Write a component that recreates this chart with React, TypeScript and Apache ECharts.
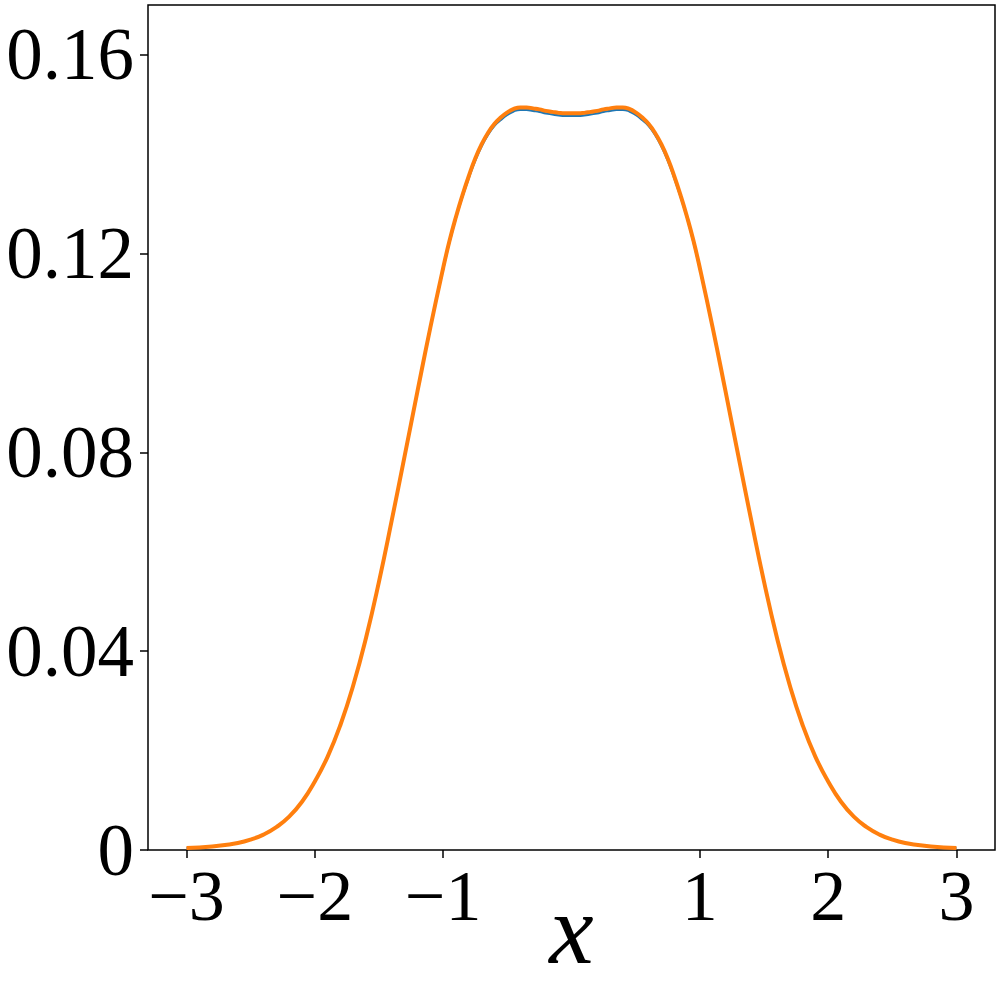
import React, { useEffect, useRef } from "react";
import * as echarts from "echarts";

const xs = [
  -3.0, -2.9, -2.8, -2.7, -2.6, -2.5, -2.4, -2.3, -2.2, -2.1,
  -2.0, -1.9, -1.8, -1.7, -1.6, -1.5, -1.4, -1.3, -1.2, -1.1,
  -1.0, -0.95, -0.9, -0.85, -0.8, -0.75, -0.7, -0.65, -0.6, -0.55,
  -0.5, -0.45, -0.4, -0.35, -0.3, -0.25, -0.2, -0.15, -0.1, -0.05,
  0.0, 0.05, 0.1, 0.15, 0.2, 0.25, 0.3, 0.35, 0.4, 0.45,
  0.5, 0.55, 0.6, 0.65, 0.7, 0.75, 0.8, 0.85, 0.9, 0.95,
  1.0, 1.1, 1.2, 1.3, 1.4, 1.5, 1.6, 1.7, 1.8, 1.9,
  2.0, 2.1, 2.2, 2.3, 2.4, 2.5, 2.6, 2.7, 2.8, 2.9, 3.0,
];

const orangeY = [
  0.0004, 0.0005, 0.0007, 0.001, 0.0014, 0.0021, 0.0031, 0.0046, 0.0067, 0.0097,
  0.0138, 0.0188, 0.0252, 0.0332, 0.0428, 0.054, 0.0664, 0.0793, 0.0923, 0.1051,
  0.1171, 0.1226, 0.1274, 0.1317, 0.1356, 0.1391, 0.142, 0.1443, 0.1461, 0.1474,
  0.1484, 0.1491, 0.1494, 0.1494, 0.1492, 0.149, 0.1487, 0.1485, 0.1483, 0.1482,
  0.1482, 0.1482, 0.1483, 0.1485, 0.1487, 0.149, 0.1492, 0.1494, 0.1494, 0.1491,
  0.1484, 0.1474, 0.1461, 0.1443, 0.142, 0.1391, 0.1356, 0.1317, 0.1274, 0.1226,
  0.1171, 0.1051, 0.0923, 0.0793, 0.0664, 0.054, 0.0428, 0.0332, 0.0252, 0.0188,
  0.0138, 0.0097, 0.0067, 0.0046, 0.0031, 0.0021, 0.0014, 0.001, 0.0007, 0.0005, 0.0004,
];

const blueY = [
  0.0004, 0.0005, 0.0007, 0.001, 0.0014, 0.0021, 0.0031, 0.0046, 0.0067, 0.0097,
  0.0138, 0.0188, 0.0252, 0.0332, 0.0428, 0.054, 0.0664, 0.0793, 0.0922, 0.105,
  0.1169, 0.1223, 0.1272, 0.1314, 0.1352, 0.1387, 0.1416, 0.1439, 0.1457, 0.1469,
  0.1479, 0.1486, 0.1489, 0.1489, 0.1487, 0.1485, 0.1482, 0.148, 0.1478, 0.1477,
  0.1477, 0.1477, 0.1478, 0.148, 0.1482, 0.1485, 0.1487, 0.1489, 0.1489, 0.1486,
  0.1479, 0.1469, 0.1457, 0.1439, 0.1416, 0.1387, 0.1352, 0.1314, 0.1272, 0.1223,
  0.1169, 0.105, 0.0922, 0.0793, 0.0664, 0.054, 0.0428, 0.0332, 0.0252, 0.0188,
  0.0138, 0.0097, 0.0067, 0.0046, 0.0031, 0.0021, 0.0014, 0.001, 0.0007, 0.0005, 0.0004,
];

const xTicks = [-3, -2, -1, 1, 2, 3];
const yTicks = [0, 0.04, 0.08, 0.12, 0.16];

const FONT = "'Liberation Serif', 'DejaVu Serif', serif";

export default function App() {
  const ref = useRef<HTMLDivElement>(null);
  useEffect(() => {
    document.body.style.margin = "0";
    const chart = echarts.init(ref.current!, undefined, { renderer: "svg" });
    const pair = (ys: number[]) => xs.map((x, i) => [x, ys[i]]);
    chart.setOption({
      animation: false,
      backgroundColor: "#ffffff",
      grid: {
        left: 148,
        right: 5,
        top: 5,
        bottom: 150,
        containLabel: false,
        outerBoundsMode: "none",
        show: true,
        borderColor: "#000",
        borderWidth: 1.5,
        backgroundColor: "transparent",
      },
      xAxis: {
        type: "value",
        min: -3.3,
        max: 3.3,
        name: "x",
        nameLocation: "middle",
        nameGap: 29,
        nameMoveOverlap: false,
        nameTextStyle: {
          fontFamily: FONT,
          fontStyle: "italic",
          fontSize: 100,
          color: "#000",
        },
        axisLine: { show: false, onZero: false },
        splitLine: { show: false },
        axisTick: {
          show: true,
          inside: false,
          length: 8,
          lineStyle: { color: "#000", width: 1.5 },
          customValues: xTicks,
        },
        axisLabel: {
          customValues: xTicks,
          fontFamily: FONT,
          fontSize: 72,
          color: "#000",
          margin: 10,
          formatter: (v: number) => String(v).replace("-", "\u2212"),
        },
      },
      yAxis: {
        type: "value",
        min: 0,
        max: 0.17,
        axisLine: { show: false, onZero: false },
        splitLine: { show: false },
        axisTick: {
          show: true,
          inside: false,
          length: 8,
          lineStyle: { color: "#000", width: 1.5 },
          customValues: yTicks,
        },
        axisLabel: {
          customValues: yTicks,
          fontFamily: FONT,
          fontSize: 73,
          color: "#000",
          margin: 14,
          formatter: (v: number) => (v === 0 ? "0" : v.toFixed(2)),
        },
      },
      series: [
        {
          type: "line",
          data: pair(blueY),
          showSymbol: false,
          smooth: 0.5,
          lineStyle: { color: "#1f77b4", width: 2.2 },
          z: 2,
        },
        {
          type: "line",
          data: pair(orangeY),
          showSymbol: false,
          smooth: 0.5,
          lineStyle: { color: "#ff7f0e", width: 4 },
          z: 3,
        },
      ],
    });
    return () => chart.dispose();
  }, []);
  return <div ref={ref} style={{ width: 1000, height: 1000 }} />;
}
